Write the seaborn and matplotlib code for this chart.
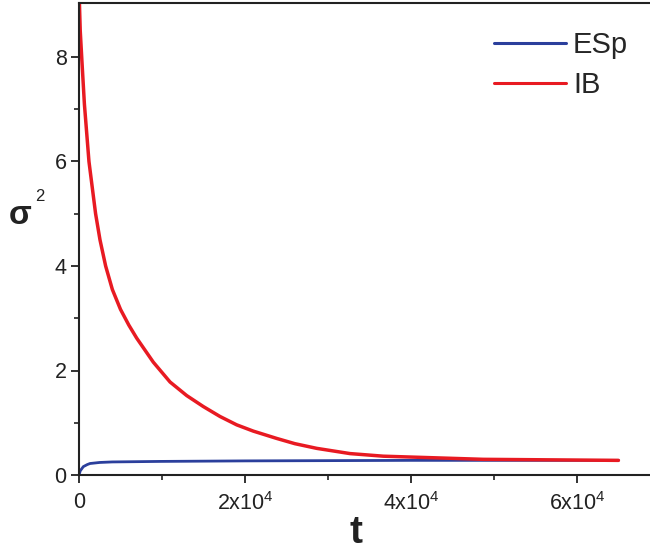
import matplotlib
matplotlib.use("Agg")
import matplotlib.pyplot as plt
import seaborn as sns
import pandas as pd
from matplotlib.ticker import FixedLocator, FuncFormatter

# ---- data ----
t_ib = [0, 150, 360, 650, 1200, 2000, 2530, 3210, 4020, 5000, 6000, 6950, 8950,
        10970, 12980, 14980, 16990, 19000, 21000, 23820, 26000, 28640, 32650,
        36670, 40690, 44700, 48720, 56750, 65000]
s_ib = [9.3, 8.5, 7.9, 7.1, 6.0, 5.0, 4.5, 4.0, 3.55, 3.17, 2.87, 2.62, 2.16,
        1.78, 1.52, 1.31, 1.12, 0.96, 0.84, 0.70, 0.60, 0.51, 0.41,
        0.36, 0.34, 0.32, 0.30, 0.29, 0.28]
t_esp = [0, 150, 520, 1000, 1330, 2500, 4000, 9760, 20000, 40000, 65000]
s_esp = [0.0, 0.08, 0.16, 0.20, 0.22, 0.24, 0.25, 0.26, 0.27, 0.28, 0.28]
series = ["ESp", "IB"]
colors = {"ESp": "#2b3f9c", "IB": "#e81a22"}
x_major = [0, 20000, 40000, 60000]
x_labels = ["0", r"$\mathregular{2x10^4}$", r"$\mathregular{4x10^4}$", r"$\mathregular{6x10^4}$"]
y_major = [0, 2, 4, 6, 8]

df = pd.concat([
    pd.DataFrame({"t": t_esp, "s": s_esp, "series": "ESp"}),
    pd.DataFrame({"t": t_ib, "s": s_ib, "series": "IB"}),
])

sns.set_style("white")
plt.rcParams["font.family"] = ["Liberation Sans", "DejaVu Sans"]
plt.rcParams["mathtext.fontset"] = "custom"
plt.rcParams["mathtext.rm"] = "Liberation Sans"

fig = plt.figure(figsize=(6.5, 5.5), dpi=100)
ax = fig.add_axes([79 / 650, 75 / 550, (650 - 79) / 650, 472 / 550])

for name in series:
    sub = df[df["series"] == name]
    sns.lineplot(data=sub, x="t", y="s", ax=ax, color=colors[name],
                 lw=2.5 if name == "IB" else 2.0, label=name,
                 estimator=None, sort=False)

ax.set_xlim(0, (650 - 79) * 120.5)
ax.set_ylim(0, 472 / 52.25)

ax.xaxis.set_major_locator(FixedLocator(x_major))
ax.xaxis.set_major_formatter(FuncFormatter(
    lambda v, p: x_labels[x_major.index(int(round(v)))] if int(round(v)) in x_major else ""))
ax.xaxis.set_minor_locator(FixedLocator([10000, 30000, 50000]))
ax.yaxis.set_major_locator(FixedLocator(y_major))
ax.yaxis.set_minor_locator(FixedLocator([1, 3, 5, 7]))

ax.tick_params(axis="both", which="major", direction="out", length=6, width=1.3,
               labelsize=15.5, color="#222222", labelcolor="#222222",
               bottom=True, left=True, top=False, right=False)
ax.tick_params(axis="x", which="major", pad=6)
ax.tick_params(axis="y", which="major", pad=3)
ax.tick_params(axis="both", which="minor", direction="out", length=3.5, width=1.2,
               color="#222222", bottom=True, left=True, top=False, right=False)

for side in ["left", "bottom", "top"]:
    ax.spines[side].set_color("#222222")
    ax.spines[side].set_linewidth(1.5)
ax.spines["right"].set_visible(False)

ax.set_xlabel("")
ax.set_ylabel("")
fig.text(356 / 650, 1 - 533 / 550, "t", fontsize=28, fontweight="bold",
         color="#222222", ha="center", va="center")
fig.text(20 / 650, 1 - 215 / 550, "σ", fontsize=24, fontweight="bold",
         color="#222222", ha="center", va="center")
fig.text(40 / 650, 1 - 196 / 550, "2", fontsize=12, color="#222222",
         ha="center", va="center")

leg = ax.legend(loc="upper right", bbox_to_anchor=((628 - 79) / 571, (475 - 31) / 472),
                frameon=False, fontsize=21, handlelength=2.5, handletextpad=0.22,
                labelspacing=0.42, borderaxespad=0, borderpad=0)
for line in leg.get_lines():
    line.set_linewidth(2.2)

fig.savefig("out.png", dpi=100)
